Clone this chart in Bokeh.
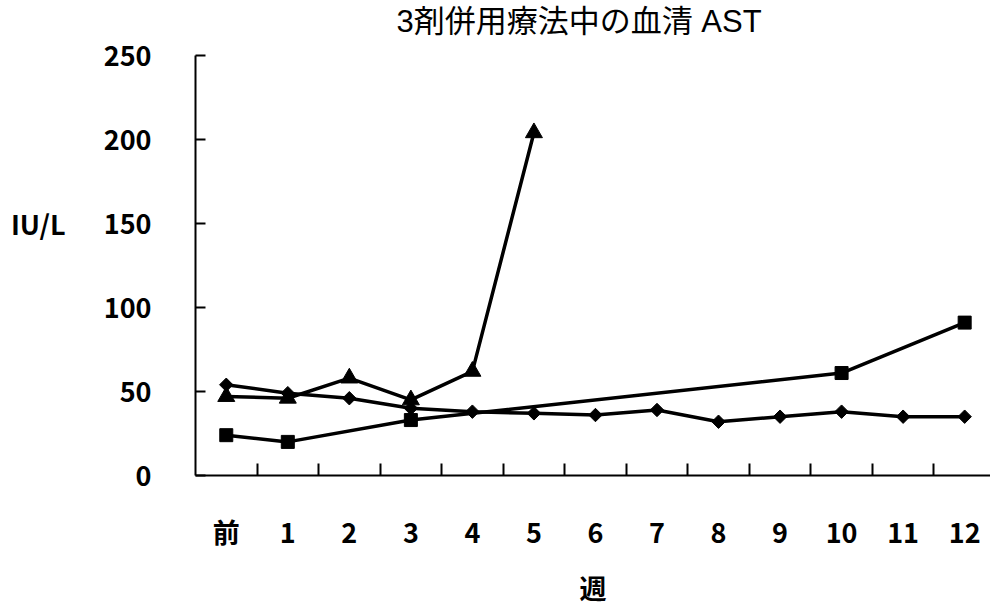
import math
from bokeh.plotting import figure
from bokeh.models import Range1d, FixedTicker, LinearAxis, Title
from bokeh.embed import file_html
from bokeh.resources import INLINE

# ---- data ----
categories = ["前", "1", "2", "3", "4", "5", "6", "7", "8", "9", "10", "11", "12"]
diamond_vals = [54, 49, 46, 40, 38, 37, 36, 39, 32, 35, 38, 35, 35]
square_weeks = [0, 1, 3, 10, 12]
square_vals = [24, 20, 33, 61, 91]
triangle_weeks = [0, 1, 2, 3, 4, 5]
triangle_vals = [47, 46, 58, 45, 62, 204]
y_ticks = [0, 50, 100, 150, 200, 250]

title_text = "3剤併用療法中の血清 AST"
x_title = "週"
y_title = "IU/L"
y_title_at = 150

FONT = "Noto Sans CJK JP"
TITLE_FONT = "Liberation Sans, Noto Sans CJK JP"

p = figure(width=990, height=615, output_backend="svg", toolbar_location=None,
           x_range=Range1d(-0.5, 12.42), y_range=Range1d(0, 250),
           min_border_left=195, min_border_right=0, min_border_top=55,
           min_border_bottom=140)
p.outline_line_color = None
p.grid.visible = False
p.background_fill_color = "white"
p.border_fill_color = "white"

# chart title (with a blank spacer between it and the plot area)
p.title = Title(text=title_text, align="left", offset=201, standoff=0,
                vertical_align="bottom", text_font=TITLE_FONT, text_font_size="31px",
                text_font_style="normal", text_color="black")
p.add_layout(Title(text=" ", standoff=0, text_font="Liberation Sans",
                   text_font_size="13px"), "above")

# x axis: labels at category centres, tick marks at category boundaries
xa = p.xaxis[0]
xa.ticker = FixedTicker(ticks=list(range(len(categories))),
                        minor_ticks=[i + 0.5 for i in range(len(categories) - 1)])
xa.major_label_overrides = {i: c for i, c in enumerate(categories)}
xa.major_tick_in = 0
xa.major_tick_out = 0
xa.minor_tick_in = 12
xa.minor_tick_out = 0
xa.minor_tick_line_width = 2
xa.minor_tick_line_color = "black"
xa.axis_line_width = 2
xa.axis_line_color = "black"
xa.major_label_text_font = FONT
xa.major_label_text_font_size = "27px"
xa.major_label_text_font_style = "bold"
xa.major_label_text_color = "black"
xa.major_label_standoff = 36
xa.axis_label = x_title
xa.axis_label_text_font = FONT
xa.axis_label_text_font_size = "27px"
xa.axis_label_text_font_style = "bold"
xa.axis_label_text_color = "black"
xa.axis_label_standoff = 14

# y axis
ya = p.yaxis[0]
ya.ticker = FixedTicker(ticks=y_ticks, minor_ticks=[])
ya.major_tick_in = 10
ya.major_tick_out = 0
ya.major_tick_line_width = 2
ya.major_tick_line_color = "black"
ya.axis_line_width = 2
ya.axis_line_color = "black"
ya.major_label_standoff = 44
ya.major_label_text_font = FONT
ya.major_label_text_font_size = "27px"
ya.major_label_text_font_style = "bold"
ya.major_label_text_color = "black"

# y title, horizontal, level with the 150 label (second left axis, text only)
yt = LinearAxis(ticker=FixedTicker(ticks=[y_title_at], minor_ticks=[]),
                major_label_overrides={y_title_at: y_title})
yt.axis_line_color = None
yt.major_tick_line_color = None
yt.minor_tick_line_color = None
yt.major_label_standoff = 29
yt.major_label_text_font = FONT
yt.major_label_text_font_size = "27px"
yt.major_label_text_font_style = "bold"
yt.major_label_text_color = "black"
p.add_layout(yt, "left")

# series
dx = list(range(len(categories)))
p.line(dx, diamond_vals, line_width=3.5, line_color="black")
p.line(square_weeks, square_vals, line_width=3.5, line_color="black")
p.line(triangle_weeks, triangle_vals, line_width=3.5, line_color="black")

p.scatter(dx, diamond_vals, marker="square", angle=math.pi / 4, size=9.5,
          fill_color="black", line_color="black")
p.scatter(square_weeks, square_vals, marker="square", size=13,
          fill_color="black", line_color="black")
p.scatter(triangle_weeks, triangle_vals, marker="triangle", size=17,
          fill_color="black", line_color="black")

open("out.html", "w").write(file_html(p, INLINE))
